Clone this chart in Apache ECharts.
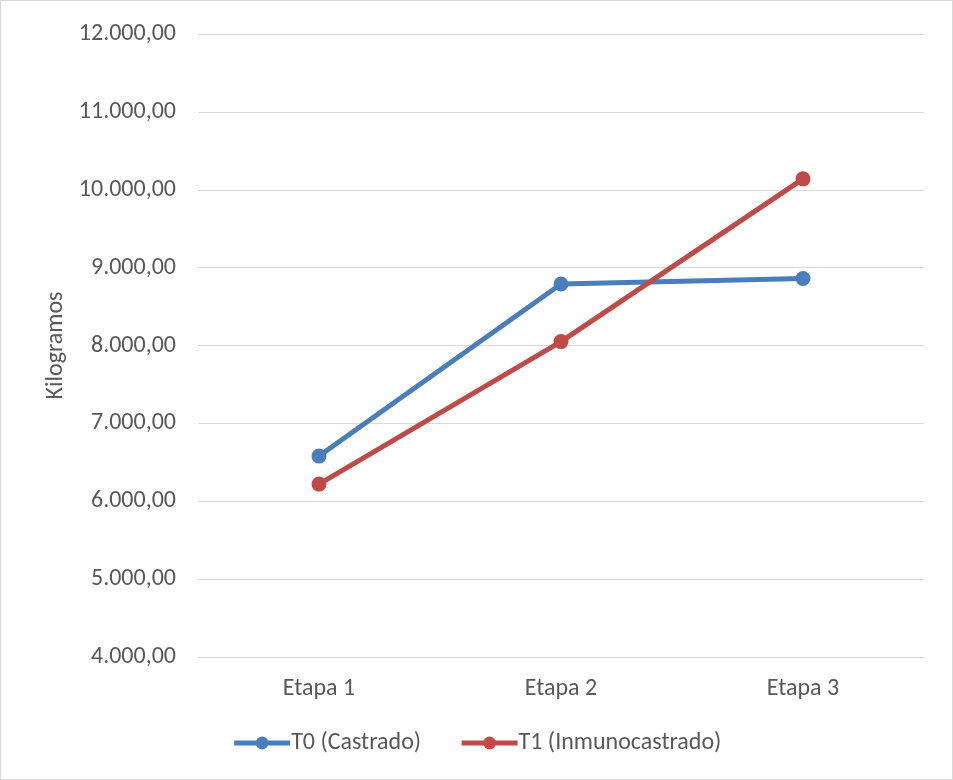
<!DOCTYPE html>
<html>
<head>
<meta charset="utf-8">
<script src="https://cdn.jsdelivr.net/npm/echarts@6/dist/echarts.min.js"></script>
<style>
  html, body { margin: 0; padding: 0; background: #fff; }
  #chart { width: 953px; height: 780px; box-sizing: border-box; border: 1px solid #d9d9d9; }
</style>
</head>
<body>
<div id="chart"></div>
<script>
// Categories and series values (kg)
const categories = ['Etapa 1', 'Etapa 2', 'Etapa 3'];
const seriesNames = ['T0 (Castrado)', 'T1 (Inmunocastrado)'];
const t0Values = [6580, 8790, 8860];
const t1Values = [6220, 8050, 10140];
const yAxisTitle = 'Kilogramos';

function fmt(v) {
  const parts = v.toFixed(2).split('.');
  const intPart = parts[0].replace(/\B(?=(\d{3})+(?!\d))/g, '.');
  return intPart + ',' + parts[1];
}

const chart = echarts.init(document.getElementById('chart'), null, { renderer: 'canvas' });
const font = 'Carlito, Calibri, "Open Sans", sans-serif';

chart.setOption({
  animation: false,
  textStyle: { fontFamily: font },
  grid: { left: 197, right: 28, top: 33, bottom: 122, containLabel: false },
  legend: {
    bottom: 19,
    left: 'center',
    itemGap: 38,
    itemWidth: 56,
    itemHeight: 16,
    lineStyle: { width: 5 },
    textStyle: { fontSize: 24, color: '#595959', fontFamily: font, padding: [0, 0, 0, -4] },
    data: seriesNames
  },
  xAxis: {
    type: 'category',
    data: categories,
    boundaryGap: true,
    axisLine: { show: true, lineStyle: { color: '#d9d9d9', width: 1 } },
    axisTick: { show: false },
    axisLabel: { fontSize: 24, color: '#595959', margin: 20 }
  },
  yAxis: {
    type: 'value',
    min: 4000,
    max: 12000,
    interval: 1000,
    name: yAxisTitle,
    nameLocation: 'middle',
    nameGap: 124,
    nameTextStyle: { fontSize: 24, color: '#595959' },
    axisLine: { show: false },
    axisTick: { show: false },
    axisLabel: { fontSize: 24, color: '#595959', margin: 22, formatter: fmt },
    splitLine: { lineStyle: { color: '#d9d9d9', width: 1 } }
  },
  series: [
    {
      name: seriesNames[0],
      type: 'line',
      data: t0Values,
      symbol: 'circle',
      symbolSize: 15,
      lineStyle: { color: '#4a7ebb', width: 5 },
      itemStyle: { color: '#4a7ebb' }
    },
    {
      name: seriesNames[1],
      type: 'line',
      data: t1Values,
      symbol: 'circle',
      symbolSize: 15,
      lineStyle: { color: '#be4b48', width: 5 },
      itemStyle: { color: '#be4b48' }
    }
  ]
});
</script>
</body>
</html>
